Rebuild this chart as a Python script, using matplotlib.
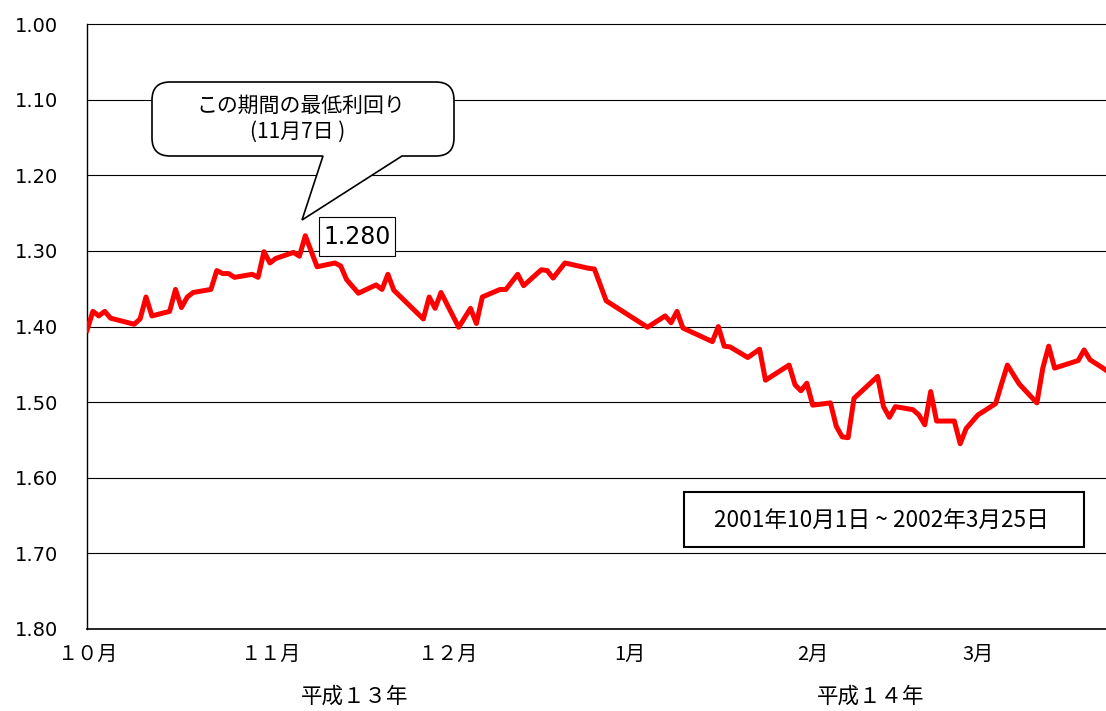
import matplotlib
matplotlib.use("Agg")
import matplotlib.pyplot as plt
import matplotlib.dates as mdates
from matplotlib.path import Path
from matplotlib.patches import PathPatch, Rectangle
import pandas as pd
import numpy as np

plt.rcParams['font.family'] = ['Noto Sans CJK JP', 'DejaVu Sans']

# ---- data ----
dates = [
    "2001-10-01", "2001-10-02", "2001-10-03", "2001-10-04", "2001-10-05",
    "2001-10-09", "2001-10-10", "2001-10-11", "2001-10-12", "2001-10-15",
    "2001-10-16", "2001-10-17", "2001-10-18", "2001-10-19", "2001-10-22",
    "2001-10-23", "2001-10-24", "2001-10-25", "2001-10-26", "2001-10-29",
    "2001-10-30", "2001-10-31", "2001-11-01", "2001-11-02", "2001-11-05",
    "2001-11-06", "2001-11-07", "2001-11-09", "2001-11-12", "2001-11-13",
    "2001-11-14", "2001-11-16", "2001-11-19", "2001-11-20", "2001-11-21",
    "2001-11-22", "2001-11-27", "2001-11-28", "2001-11-29", "2001-11-30",
    "2001-12-03", "2001-12-05", "2001-12-06", "2001-12-07", "2001-12-10",
    "2001-12-11", "2001-12-13", "2001-12-14", "2001-12-17", "2001-12-18",
    "2001-12-19", "2001-12-21", "2001-12-25", "2001-12-26", "2001-12-28",
    "2002-01-04", "2002-01-07", "2002-01-08", "2002-01-09", "2002-01-10",
    "2002-01-15", "2002-01-16", "2002-01-17", "2002-01-18", "2002-01-21",
    "2002-01-23", "2002-01-24", "2002-01-28", "2002-01-29", "2002-01-30",
    "2002-01-31", "2002-02-01", "2002-02-04", "2002-02-05", "2002-02-06",
    "2002-02-07", "2002-02-08", "2002-02-12", "2002-02-13", "2002-02-14",
    "2002-02-15", "2002-02-18", "2002-02-19", "2002-02-20", "2002-02-21",
    "2002-02-22", "2002-02-25", "2002-02-26", "2002-02-27", "2002-03-01",
    "2002-03-04", "2002-03-05", "2002-03-06", "2002-03-08", "2002-03-11",
    "2002-03-12", "2002-03-13", "2002-03-14", "2002-03-18", "2002-03-19",
    "2002-03-20", "2002-03-22", "2002-03-25",
]
yields = [
    1.405, 1.380, 1.386, 1.380, 1.389,
    1.397, 1.390, 1.361, 1.386, 1.380,
    1.351, 1.375, 1.361, 1.355, 1.351,
    1.326, 1.330, 1.330, 1.335, 1.331,
    1.335, 1.301, 1.316, 1.310, 1.302,
    1.307, 1.280, 1.321, 1.316, 1.320,
    1.338, 1.356, 1.345, 1.351, 1.331,
    1.352, 1.390, 1.361, 1.376, 1.355,
    1.401, 1.376, 1.396, 1.361, 1.351,
    1.351, 1.331, 1.346, 1.325, 1.326,
    1.336, 1.316, 1.323, 1.324, 1.366,
    1.401, 1.386, 1.395, 1.380, 1.402,
    1.420, 1.400, 1.426, 1.427, 1.441,
    1.430, 1.471, 1.451, 1.477, 1.485,
    1.475, 1.504, 1.501, 1.532, 1.546,
    1.547, 1.495, 1.466, 1.506, 1.520,
    1.506, 1.510, 1.517, 1.530, 1.486,
    1.525, 1.525, 1.555, 1.535, 1.517,
    1.502, 1.476, 1.451, 1.476, 1.501,
    1.455, 1.426, 1.455, 1.445, 1.431,
    1.444, 1.454, 1.470,
]
y_ticks = [1.00, 1.10, 1.20, 1.30, 1.40, 1.50, 1.60, 1.70, 1.80]
month_ticks = ["2001-10-01", "2001-11-01", "2001-12-01", "2002-01-01", "2002-02-01", "2002-03-01"]
month_labels = ["１０月", "１１月", "１２月", "1月", "2月", "3月"]
year_labels = ["平成１３年", "平成１４年"]
min_label = "1.280"
callout_lines = ["この期間の最低利回り", "(11月7日 )"]
period_text = "2001年10月1日 ~ 2002年3月25日"

# ---- figure ----
W, H = 1106, 711
fig = plt.figure(figsize=(W / 100, H / 100), dpi=100)
fig.patch.set_facecolor("white")

def fx(px):
    return px / W

def fy(py):
    return 1 - py / H

ax = fig.add_axes([fx(87), fy(629), fx(1106) - fx(87), fy(24) - fy(629)])

x = mdates.date2num(pd.to_datetime(dates))
ax.plot(x, yields, color="#ff0000", lw=3.6, solid_joinstyle="round", zorder=3)

x0 = mdates.date2num(pd.Timestamp("2001-10-01"))
ax.set_xlim(x0, x0 + (1106 - 87) / 5.9)
ax.set_ylim(1.80, 1.00)

ax.set_yticks(y_ticks)
ax.set_yticklabels([f"{v:.2f}" for v in y_ticks], family="DejaVu Sans", fontsize=14)
ax.tick_params(axis="y", length=0, pad=21)

mt = mdates.date2num(pd.to_datetime(month_ticks))
ax.set_xticks(mt)
ax.set_xticklabels(month_labels, fontsize=14.5)
ax.tick_params(axis="x", length=0, pad=11)

for v in y_ticks[:-1]:
    ax.axhline(v, color="black", lw=0.8, zorder=1, clip_on=False)

for s in ["top", "right"]:
    ax.spines[s].set_visible(False)
ax.spines["left"].set_color("black")
ax.spines["bottom"].set_color("black")
ax.spines["left"].set_linewidth(1.0)
ax.spines["bottom"].set_linewidth(1.2)

# year labels
fig.text(fx(355), fy(697), year_labels[0], ha="center", va="center", fontsize=15.5)
fig.text(fx(871), fy(697), year_labels[1], ha="center", va="center", fontsize=15.5)

# callout balloon
L, R, T, B, r = 152, 454, 82, 156, 18
tip = (302, 220)
bl, br = 323, 402
pts = [
    ((L + r, T), Path.MOVETO),
    ((R - r, T), Path.LINETO),
    ((R, T), Path.CURVE3), ((R, T + r), Path.CURVE3),
    ((R, B - r), Path.LINETO),
    ((R, B), Path.CURVE3), ((R - r, B), Path.CURVE3),
    ((br, B), Path.LINETO),
    (tip, Path.LINETO),
    ((bl, B), Path.LINETO),
    ((L + r, B), Path.LINETO),
    ((L, B), Path.CURVE3), ((L, B - r), Path.CURVE3),
    ((L, T + r), Path.LINETO),
    ((L, T), Path.CURVE3), ((L + r, T), Path.CURVE3),
    ((L + r, T), Path.CLOSEPOLY),
]
verts = [(fx(p[0]), fy(p[1])) for p, _ in pts]
codes = [c for _, c in pts]
balloon = PathPatch(Path(verts, codes), facecolor="white", edgecolor="black",
                    lw=1.2, transform=fig.transFigure, zorder=5)
fig.patches.append(balloon)
fig.text(fx(301), fy(106), callout_lines[0], ha="center", va="center", fontsize=15, zorder=6)
fig.text(fx(298), fy(132), callout_lines[1], ha="center", va="center", fontsize=15, zorder=6)

# min label box
fig.patches.append(Rectangle((fx(319), fy(256)), fx(395) - fx(319), fy(217) - fy(256),
                             facecolor="white", edgecolor="black", lw=0.8,
                             transform=fig.transFigure, zorder=5))
fig.text(fx(357), fy(237), min_label, ha="center", va="center", fontsize=17,
         family="DejaVu Sans", zorder=6)

# period box
fig.patches.append(Rectangle((fx(684), fy(547)), fx(1084) - fx(684), fy(492) - fy(547),
                             facecolor="white", edgecolor="black", lw=1.5,
                             transform=fig.transFigure, zorder=5))
fig.text(fx(881), fy(520), period_text, ha="center", va="center", fontsize=16.3, zorder=6)

fig.savefig("out.png", dpi=100, facecolor="white")
